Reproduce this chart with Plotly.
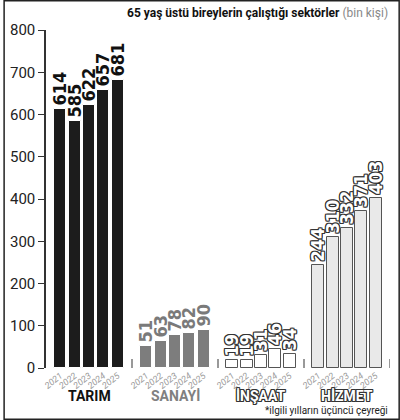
import plotly.graph_objects as go

sectors = ["TARIM", "SANAYİ", "İNŞAAT", "HİZMET"]
years = ["2021", "2022", "2023", "2024", "2025"]
tarim = [614, 585, 622, 657, 681]
sanayi = [51, 63, 78, 82, 90]
insaat = [19, 19, 31, 46, 34]
hizmet = [244, 310, 332, 371, 403]
series = [tarim, sanayi, insaat, hizmet]

fills = ["#1c1c1c", "#7d7d7d", "#ffffff", "#e9e9e9"]
lines = ["#ffffff", "#ffffff", "#555555", "#555555"]
label_colors = ["#111111", "#7a7a7a", "#ffffff", "#ffffff"]
outline = "-1px -1px 0 #333, 1px -1px 0 #333, -1px 1px 0 #333, 1px 1px 0 #333, 0 1px 0 #333, 0 -1px 0 #333, 1px 0 0 #333, -1px 0 0 #333"
shadows = ["none", "none", outline, outline]

GROUP = 6
fig = go.Figure()
tickvals, ticktext = [], []
for g, vals in enumerate(series):
    xs = [g * GROUP + 1 + i for i in range(len(vals))]
    tickvals += xs
    ticktext += years
    fig.add_trace(go.Bar(
        x=xs, y=vals, width=0.82,
        marker=dict(color=fills[g], line=dict(color=lines[g], width=1)),
        text=[str(v) for v in vals], textposition="outside", textangle=-90,
        constraintext="none", cliponaxis=False,
        textfont=dict(family="Liberation Sans Narrow, DejaVu Sans Condensed, sans-serif",
                      size=18, color=label_colors[g], weight="bold", shadow=shadows[g]),
        showlegend=False, hoverinfo="skip",
    ))
    fig.add_annotation(x=g * GROUP + 3, y=-0.083, xref="x", yref="paper",
                       text="<b>" + sectors[g] + "</b>", showarrow=False,
                       font=dict(family="Roboto, sans-serif", size=14,
                                 color=["#111111", "#808080", "#ffffff", "#ffffff"][g],
                                 shadow=shadows[g]),
                       yanchor="middle")
    fig.add_shape(type="line", xref="x", yref="y", x0=(g + 1) * GROUP, x1=(g + 1) * GROUP,
                  ysizemode="pixel", yanchor=0, y0=0, y1=9,
                  line=dict(color="#555555", width=1.2))

W, H = 400, 420
ml, mr, mt, mb = 43, 10, 30, 52
pw, ph = W - ml - mr, H - mt - mb

fig.update_layout(
    width=W, height=H,
    margin=dict(l=ml, r=mr, t=mt, b=mb),
    paper_bgcolor="white", plot_bgcolor="white",
    bargap=0,
    xaxis=dict(range=[0, 4 * GROUP], tickvals=tickvals, ticktext=ticktext, tickangle=-38,
               showgrid=False, zeroline=False, showline=False, ticks="",
               tickfont=dict(family="Roboto, sans-serif", size=9, color="#9a9a9a", style="italic")),
    yaxis=dict(range=[0, 800], tickvals=list(range(0, 801, 100)), showgrid=False,
               zeroline=False, showline=True, linecolor="#333333", linewidth=1.5,
               ticks="outside", ticklen=6, tickcolor="#333333", tickwidth=1.2,
               tickfont=dict(family="Roboto, sans-serif", size=15, color="#222222")),
    font=dict(family="Roboto, sans-serif"),
)

fig.add_annotation(x=1, y=1 + 17 / ph, xref="paper", yref="paper",
                   text="<b>65 yaş üstü bireylerin çalıştığı sektörler</b> <span style='color:#888888'>(bin kişi)</span>",
                   showarrow=False, xanchor="right", yanchor="middle",
                   font=dict(family="Roboto, sans-serif", size=12, color="#111111"))
fig.add_annotation(x=1, y=-42 / ph, xref="paper", yref="paper",
                   text="*ilgili yılların üçüncü çeyreği", showarrow=False,
                   xanchor="right", yanchor="middle",
                   font=dict(family="Roboto, sans-serif", size=10, color="#222222"))

fig.add_shape(type="rect", xref="paper", yref="paper",
              x0=-(ml - 0.75) / pw, x1=1 + (mr - 0.75) / pw,
              y0=-(mb - 0.75) / ph, y1=1 + (mt - 0.75) / ph,
              line=dict(color="#222222", width=1.5), layer="above")

fig.write_html("out.html", config={"displayModeBar": False},
               post_script="document.body.style.margin='0';document.body.style.overflow='hidden';")
